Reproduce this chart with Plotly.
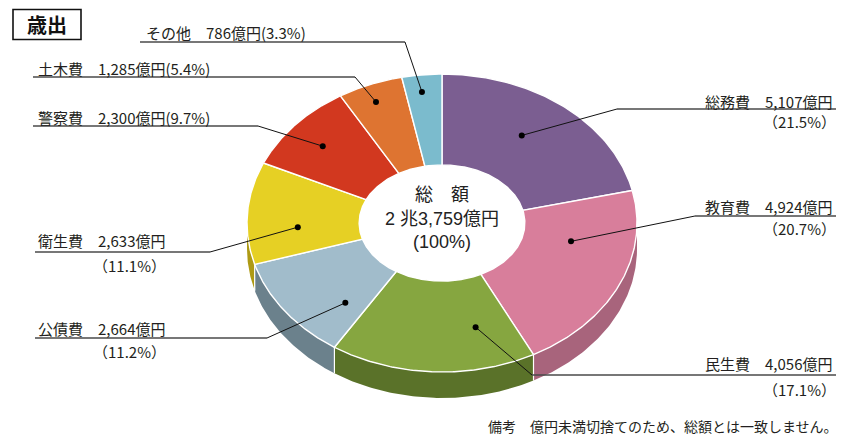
import numpy as np
import plotly.graph_objects as go

# ---------------- data ----------------
names = ["総務費", "教育費", "民生費", "公債費", "衛生費", "警察費", "土木費", "その他"]
values = [5107, 4924, 4056, 2664, 2633, 2300, 1285, 786]
pcts = [21.5, 20.7, 17.1, 11.2, 11.1, 9.7, 5.4, 3.3]
total_label = "2 兆3,759億円"
total_pct = "(100%)"
title_text = "歳出"
note_text = "備考　億円未満切捨てのため、総額とは一致しません。"

# ---------------- style / layout ----------------
top_colors = ["#7B5E91", "#D87E9B", "#86A640", "#A1BCCB", "#E6D024", "#D2381F", "#DE7431", "#7BBBCD"]
side_colors = ["#56406A", "#A8647C", "#5A7229", "#6B818C", "#AE9A14", "#962714", "#A65222", "#55909F"]
CX, CY, RX, RY = 442, 223, 195, 149
HOLE_X, HOLE_Y = 0.425, 0.39
DEPTH = 26
FONT = "Noto Sans CJK JP, Noto Sans, sans-serif"
CFONT = "Liberation Sans, Noto Sans CJK JP, sans-serif"
OFF = 8  # page body margin compensation
W, H = 858, 443

# label layout: side, text y, second-line y, underline y, underline outer x, bend x, dot fraction in slice, dot radius
label_layout = [
    dict(side="R", ty=101, ty2=121, ly=109, lx=836, bx=617, frac=0.45, r=0.716),
    dict(side="R", ty=206, ty2=228, ly=216, lx=836, bx=695, frac=0.31, r=0.673),
    dict(side="R", ty=363, ty2=389, ly=375, lx=836, bx=532, frac=0.23, r=0.72),
    dict(side="L", ty=328, ty2=351, ly=338, lx=35, bx=267, frac=0.23, r=0.73, tx=36, tx2=168),
    dict(side="L", ty=240, ty2=265, ly=252, lx=35, bx=210, frac=0.35, r=0.74, tx=36, tx2=168),
    dict(side="L", ty=117, ty2=None, ly=126, lx=33, bx=258, frac=0.47, r=0.80, tx=36),
    dict(side="L", ty=68, ty2=None, ly=77, lx=33, bx=355, frac=0.45, r=0.88, tx=36),
    dict(side="L", ty=32, ty2=None, ly=42, lx=140, bx=405, frac=0.44, r=0.885, tx=144),
]


def ell(t_deg, fx, fy, dy=0.0):
    t = np.radians(np.asarray(t_deg, dtype=float))
    return CX + RX * fx * np.sin(t), CY - RY * fy * np.cos(t) + dy


total = float(sum(values))
spans = [v / total * 360.0 for v in values]
starts = list(np.cumsum([0.0] + spans[:-1]))
ends = [s + w for s, w in zip(starts, spans)]

fig = go.Figure()

# ---- side walls (front half only: 90..270 deg) ----
sep_x, sep_y = [], []
for i in range(len(values)):
    s, e = max(starts[i], 90.0), min(ends[i], 270.0)
    if e > s:
        t = np.linspace(s, e, 80)
        xt, yt = ell(t, 1, 1)
        xb, yb = ell(t[::-1], 1, 1, DEPTH)
        fig.add_trace(go.Scatter(x=np.concatenate([xt, xb]), y=np.concatenate([yt, yb]),
                                 fill="toself", fillcolor=side_colors[i], mode="lines",
                                 line=dict(width=0), hoverinfo="skip", showlegend=False))
for b in ends[:-1]:
    if 90.0 < b < 270.0:
        x0, y0 = ell(b, 1, 1)
        sep_x += [float(x0), float(x0), None]
        sep_y += [float(y0), float(y0) + DEPTH, None]
fig.add_trace(go.Scatter(x=sep_x, y=sep_y, mode="lines", line=dict(color="white", width=1.2),
                         hoverinfo="skip", showlegend=False))

# ---- top surfaces ----
for i in range(len(values)):
    t = np.linspace(starts[i], ends[i], 120)
    xo, yo = ell(t, 1, 1)
    xi, yi = ell(t[::-1], HOLE_X, HOLE_Y)
    fig.add_trace(go.Scatter(x=np.concatenate([xo, xi, xo[:1]]), y=np.concatenate([yo, yi, yo[:1]]),
                             fill="toself", fillcolor=top_colors[i], mode="lines",
                             line=dict(color="white", width=1.4), hoverinfo="skip", showlegend=False))

# ---- leader lines, dots, labels ----
ul_x, ul_y, ld_x, ld_y, dot_x, dot_y = [], [], [], [], [], []
annotations = []
for i, L in enumerate(label_layout):
    ang = starts[i] + L["frac"] * spans[i]
    dx, dy = ell(ang, L["r"], L["r"])
    dot_x.append(float(dx)); dot_y.append(float(dy))
    ul_x += [L["lx"], L["bx"], None]; ul_y += [L["ly"], L["ly"], None]
    ld_x += [L["bx"], float(dx), None]; ld_y += [L["ly"], float(dy), None]
    val = f"{values[i]:,}億円"
    if L["side"] == "R":
        annotations.append(dict(x=834, y=L["ty"], text=f"{names[i]}　{val}", xanchor="right",
                                yanchor="middle", showarrow=False))
        annotations.append(dict(x=838, y=L["ty2"], text=f"（{pcts[i]}%）", xanchor="right",
                                yanchor="middle", showarrow=False))
    else:
        if L["ty2"] is None:
            annotations.append(dict(x=L["tx"], y=L["ty"], text=f"{names[i]}　{val}({pcts[i]}%)",
                                    xanchor="left", yanchor="middle", showarrow=False))
        else:
            annotations.append(dict(x=L["tx"], y=L["ty"], text=f"{names[i]}　{val}",
                                    xanchor="left", yanchor="middle", showarrow=False))
            annotations.append(dict(x=L["tx2"], y=L["ty2"], text=f"（{pcts[i]}%）",
                                    xanchor="right", yanchor="middle", showarrow=False))

fig.add_trace(go.Scatter(x=ul_x, y=ul_y, mode="lines", line=dict(color="#4a4a4a", width=1.3),
                         hoverinfo="skip", showlegend=False))
fig.add_trace(go.Scatter(x=ld_x, y=ld_y, mode="lines", line=dict(color="#111111", width=1),
                         hoverinfo="skip", showlegend=False))
fig.add_trace(go.Scatter(x=dot_x, y=dot_y, mode="markers", marker=dict(color="black", size=6),
                         hoverinfo="skip", showlegend=False))

for a in annotations:
    a["font"] = dict(family=FONT, size=15, color="#231f20")

# centre text
cf = dict(family=CFONT, size=18, color="#222")
annotations += [
    dict(x=CX, y=195, text="総　額", showarrow=False, font=cf),
    dict(x=CX, y=219, text=total_label, showarrow=False, font=cf),
    dict(x=CX, y=242, text=total_pct, showarrow=False, font=cf),
    dict(x=47, y=24, text=f"<b>{title_text}</b>", showarrow=False, font=dict(family=FONT, size=20, color="#111")),
    dict(x=840, y=426, text=note_text, xanchor="right", showarrow=False,
         font=dict(family=FONT, size=14, color="#231f20")),
]

fig.update_layout(
    width=W - OFF, height=H - OFF,
    margin=dict(l=0, r=0, t=0, b=0),
    paper_bgcolor="white", plot_bgcolor="white",
    xaxis=dict(range=[OFF, W], visible=False, fixedrange=True),
    yaxis=dict(range=[H, OFF], visible=False, fixedrange=True),
    annotations=annotations,
    shapes=[dict(type="rect", x0=13, y0=9.5, x1=81, y1=39.5, line=dict(color="#111", width=1.6),
                 xref="x", yref="y")],
    showlegend=False,
)

fig.write_html("out.html")
